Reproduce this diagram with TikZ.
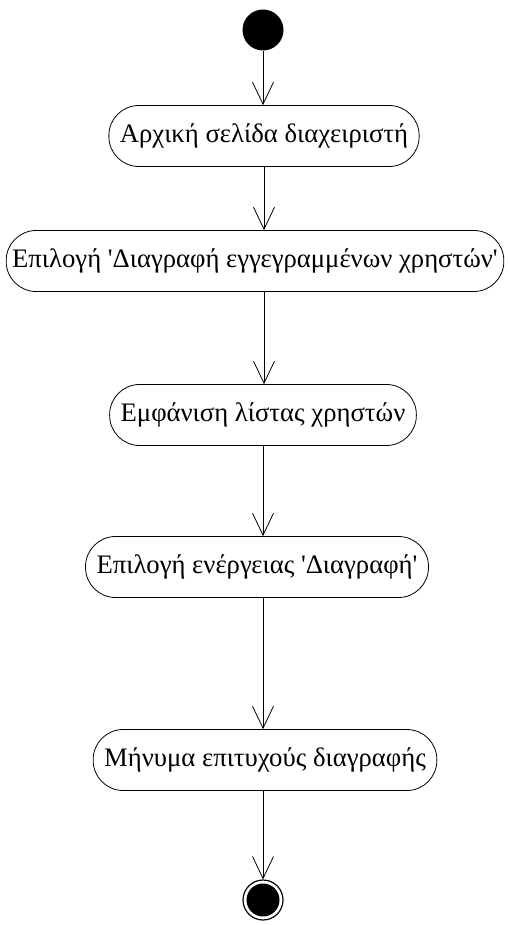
\documentclass[tikz,border=0pt]{standalone}
\usepackage{fontspec}
\setmainfont{Liberation Serif}
\usetikzlibrary{arrows.meta}
\tikzset{
  action/.style={draw, line width=0.8pt, rounded corners=30pt, minimum height=61pt, inner xsep=11pt, font=\fontsize{26.7}{32}\selectfont},
  flow/.style={-{Straight Barb[length=22pt,width=21pt]}, line width=0.8pt},
}
\newcommand{\sq}{\textquotesingle}

\begin{document}
\begin{tikzpicture}[x=1pt,y=-1pt]
			%%%%% START %%%%%
			\useasboundingbox (0,0) rectangle (509,925);
			
			\node[circle, fill=black, minimum size=41pt, inner sep=0pt] (start) at (263,30) {};
			
			\node[action] (home) at (264,136) {Αρχική σελίδα διαχειριστή};
			\node[action, inner xsep=6pt] (choice) at (255,261) {Επιλογή \sq Διαγραφή εγγεγραμμένων χρηστών\sq};
			\node[action] (list) at (263,415) {Εμφάνιση λίστας χρηστών};
			\node[action] (action) at (257,567) {Επιλογή ενέργειας \sq Διαγραφή\sq};
			\node[action] (done) at (265,760) {Μήνυμα επιτυχούς διαγραφής};
			
			\node[circle, draw, line width=1.2pt, minimum size=40pt, inner sep=0pt] (stop) at (263,900) {};
			\fill (stop) circle (16.5pt);
			
			\draw[flow] (start) -- (start |- home.north);
			\draw[flow] (home.south) -- (home.south |- choice.north);
			\draw[flow] (home.south |- choice.south) -- (home.south |- list.north);
			\draw[flow] (list.south) -- (list.south |- action.north);
			\draw[flow] (list.south |- action.south) -- (list.south |- done.north);
			\draw[flow] (list.south |- done.south) -- (stop);
			%%%%% END %%%%%
		\end{tikzpicture}
\end{document}
